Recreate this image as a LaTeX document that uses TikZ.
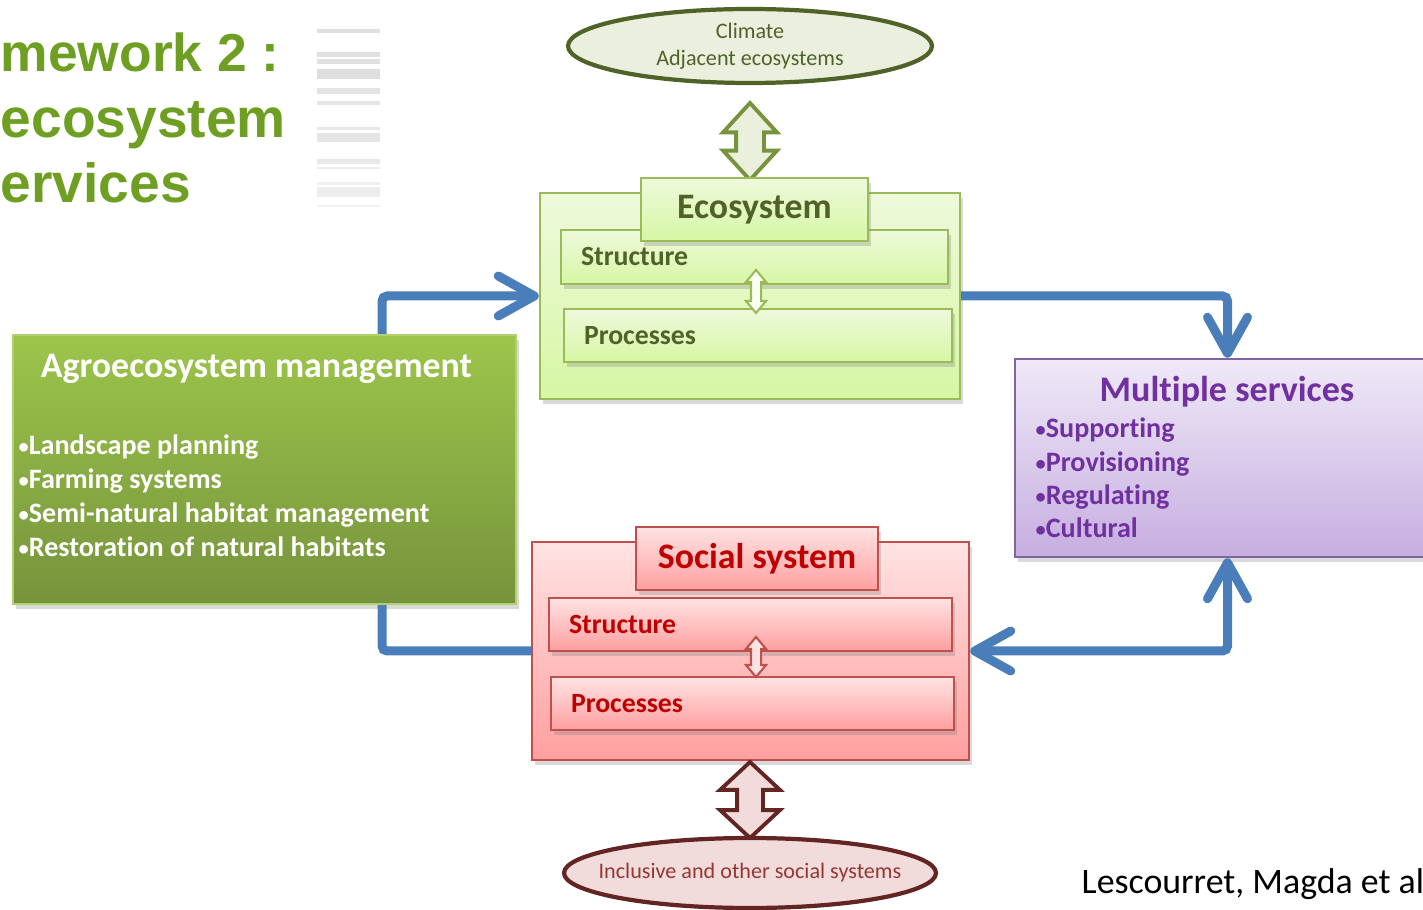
\documentclass[tikz,border=0pt]{standalone}
\usepackage{fontspec}
\setmainfont{Carlito}[Ligatures=NoCommon]
\newfontfamily\headfont{Liberation Sans}
\usepackage{tikz}
\usetikzlibrary{shapes.geometric, shapes.arrows, shadows, arrows.meta}

\definecolor{ecoline}{HTML}{9BBB59}
\definecolor{ecotop}{HTML}{EEF9DC}
\definecolor{ecobot}{HTML}{D6F7A4}
\definecolor{ecotext}{HTML}{4F6228}
\definecolor{ellline}{HTML}{4F6228}
\definecolor{ellfill}{HTML}{EBF0DE}
\definecolor{linkline}{HTML}{77933C}
\definecolor{socline}{HTML}{C0504D}
\definecolor{soctop}{HTML}{FFE3E3}
\definecolor{socbot}{HTML}{FF9F9F}
\definecolor{soctext}{HTML}{C00000}
\definecolor{maroon}{HTML}{632523}
\definecolor{rosefill}{HTML}{F2DCDB}
\definecolor{rosetext}{HTML}{953735}
\definecolor{agrotop}{HTML}{9DC54B}
\definecolor{agrobot}{HTML}{76933C}
\definecolor{servline}{HTML}{8064A2}
\definecolor{servtop}{HTML}{EFE9F7}
\definecolor{servbot}{HTML}{C6AEE0}
\definecolor{servtext}{HTML}{7030A0}
\definecolor{flowblue}{HTML}{4A7EBB}
\definecolor{headgreen}{HTML}{6F9F22}

\newcommand{\itemdot}{\raisebox{0.3pt}{\fontsize{5.8}{5}\selectfont •}}

\tikzset{
  softshadow/.style={drop shadow={shadow xshift=0.03cm, shadow yshift=-0.05cm, opacity=0.3}},
  ecobox/.style={draw=ecoline, line width=0.7pt, top color=ecotop, bottom color=ecobot, softshadow, inner sep=0},
  socbox/.style={draw=socline, line width=0.7pt, top color=soctop, bottom color=socbot, softshadow, inner sep=0},
  partbox/.style={inner ysep=0, inner xsep=0.2cm, align=left, font=\fontsize{7.9}{9}\selectfont\bfseries},
  flow/.style={draw=flowblue, line width=0.09cm, rounded corners=0.05cm},
  chev/.style={-{Straight Barb[length=3.6mm, width=4mm, round]}},
  biglink/.style={double arrow, rotate=90, line width=1.1pt, inner xsep=0},
  smalllink/.style={double arrow, rotate=90, line width=0.6pt, inner xsep=0, double arrow tip angle=80},
}

\begin{document}
\begin{tikzpicture}
  \useasboundingbox (0,0) rectangle (14.23,-9.10);
  \clip (0,0) rectangle (14.23,-9.10);

  % heading on the left
  \node[anchor=base west, inner sep=0, text=headgreen, font=\headfont\fontsize{15.2}{18}\selectfont\bfseries] (headA) at (0,-0.72) {mework 2 :};
  \node[anchor=base west, inner sep=0, text=headgreen, font=\headfont\fontsize{15.7}{18}\selectfont\bfseries] (headB) at (0,-1.38) {ecosystem};
  \node[anchor=base west, inner sep=0, text=headgreen, font=\headfont\fontsize{15.7}{18}\selectfont\bfseries] (headC) at (0,-2.03) {ervices};
  \foreach \y/\h/\g in {0.29/0.04/12, 0.52/0.05/12, 0.59/0.05/12, 0.69/0.10/13, 0.88/0.06/11, 1.01/0.04/10, 1.27/0.03/9, 1.33/0.09/10, 1.59/0.05/9, 1.67/0.02/7, 1.82/0.03/6, 1.87/0.10/7, 2.05/0.02/5}
    \fill[black!\g] (3.17,-\y) rectangle (3.80,-\y-\h);

  % ecosystem
  \node[ellipse, draw=ellline, line width=1.2pt, fill=ellfill, minimum width=3.64cm, minimum height=0.74cm, inner sep=0, align=center, text=ecotext, font=\fontsize{6.3}{7.6}\selectfont] (clim) at (7.50,-0.46) {Climate\\Adjacent ecosystems};
  \node[biglink, draw=linkline, fill=ellfill, minimum height=0.77cm, inner ysep=0.12cm, double arrow head extend=0.13cm, double arrow tip angle=85] (climLink) at (7.50,-1.415) {};
  \node[ecobox, minimum width=4.20cm, minimum height=2.06cm] (ecoOuter) at (7.50,-2.96) {};
  \node[ecobox, partbox, text=ecotext, text width=3.47cm, minimum height=0.54cm] (ecoStruct) at (7.545,-2.57) {Structure};
  \node[ecobox, partbox, text=ecotext, text width=3.48cm, minimum height=0.53cm] (ecoProc) at (7.58,-3.355) {Processes};
  \node[smalllink, draw=ecoline, fill=white!70!ecotop, minimum height=0.43cm, inner ysep=0.04cm, double arrow head extend=0.05cm] (ecoLink) at (7.56,-2.915) {};
  \node[ecobox, text=ecotext, minimum width=2.27cm, minimum height=0.63cm, font=\fontsize{10.2}{11}\selectfont\bfseries] (ecoTitle) at (7.545,-2.095) {\raisebox{-1.5pt}{Ecosystem}};

  % social system
  \node[socbox, minimum width=4.37cm, minimum height=2.18cm] (socOuter) at (7.505,-6.51) {};
  \node[socbox, partbox, text=soctext, text width=3.63cm, minimum height=0.53cm] (socStruct) at (7.505,-6.245) {Structure};
  \node[socbox, partbox, text=soctext, text width=3.63cm, minimum height=0.53cm] (socProc) at (7.525,-7.035) {Processes};
  \node[smalllink, draw=socline, fill=soctop, minimum height=0.40cm, inner ysep=0.04cm, double arrow head extend=0.05cm] (socLink) at (7.56,-6.57) {};
  \node[socbox, text=soctext, minimum width=2.42cm, minimum height=0.63cm, font=\fontsize{10.2}{12}\selectfont\bfseries] (socTitle) at (7.57,-5.585) {Social system};
  \node[biglink, draw=maroon, fill=rosefill, minimum height=0.76cm, inner ysep=0.11cm, double arrow head extend=0.17cm, double arrow tip angle=94] (socLinkB) at (7.50,-8.00) {};
  \node[ellipse, draw=maroon, line width=1.2pt, fill=rosefill, minimum width=3.72cm, minimum height=0.70cm, inner sep=0,
    label={[name=socEllText, text=rosetext, font=\fontsize{6.3}{7}\selectfont]center:Inclusive and other social systems}] (socEll) at (7.50,-8.73) {};

  % management
  \node[draw=agrotop!80!white, line width=0.6pt, top color=agrotop, bottom color=agrobot, softshadow, minimum width=5.03cm, minimum height=2.69cm, inner sep=0] (agro) at (2.645,-4.695) {};
  \node[anchor=base, inner sep=0, text=white, font=\fontsize{10.2}{11}\selectfont\bfseries] (agroTitle) at (2.565,-3.78) {Agroecosystem management};
  \foreach \t [count=\i] in {Landscape planning, Farming systems, Semi-natural habitat management, Restoration of natural habitats}
    \node[anchor=base west, inner sep=0, text=white, font=\fontsize{8}{9}\selectfont\bfseries] (agroItem\i) at (0.18,{-4.21-0.34*\i}) {\itemdot\t};

  % services
  \node[draw=servline, line width=0.7pt, top color=servtop, bottom color=servbot, softshadow, minimum width=4.25cm, minimum height=1.98cm, inner sep=0] (serv) at (12.275,-4.58) {};
  \node[anchor=base, inner sep=0, text=servtext, font=\fontsize{10.25}{11}\selectfont\bfseries] (servTitle) at (12.27,-4.02) {Multiple services};
  \foreach \t [count=\i] in {Supporting, Provisioning, Regulating, Cultural}
    \node[anchor=base west, inner sep=0, text=servtext, font=\fontsize{8}{9}\selectfont\bfseries] (servItem\i) at (10.35,{-4.047-0.333*\i}) {\itemdot\t};

  % flows
  \draw[flow, chev] ([xshift=1.175cm]agro.north) |- (ecoOuter.west);
  \draw[flow, chev] (ecoOuter.east) -| (serv.north);
  \draw[flow, {Straight Barb[length=3.6mm, width=4mm, round]}-{Straight Barb[length=3.6mm, width=4mm, round]}] (serv.south) |- (socOuter.east);
  \draw[flow] ([xshift=1.175cm]agro.south) |- (socOuter.west);

  \node[anchor=base west, inner sep=0, font=\fontsize{10.2}{11}\selectfont] (cite) at (10.81,-8.93) {Lescourret, Magda et al};
\end{tikzpicture}
\end{document}
